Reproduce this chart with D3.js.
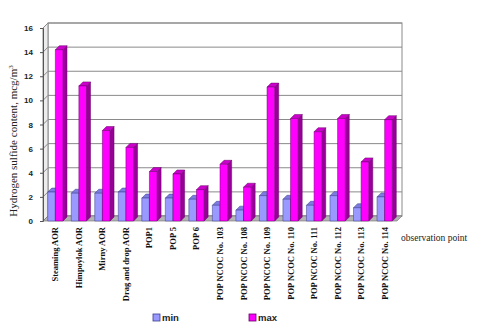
<!DOCTYPE html>
<html>
<head>
<meta charset="utf-8">
<script src="https://cdn.jsdelivr.net/npm/d3@7"></script>
<style>
  html, body { margin: 0; padding: 0; background: #fff; }
  svg { display: block; }
</style>
</head>
<body>
<div id="root"><svg id="chart" width="480" height="331"></svg></div>
<script>
const categories = [
  'Steaming AOR', 'Himpoylok AOR', 'Mirny AOR', 'Drag and drop AOR', 'POP1', 'POP 5', 'POP 6',
  'POP NCOC No. 103', 'POP NCOC No. 108', 'POP NCOC No. 109', 'POP NCOC No. 110',
  'POP NCOC No. 111', 'POP NCOC No. 112', 'POP NCOC No. 113', 'POP NCOC No. 114'
];
const minValues = [2.4, 2.3, 2.3, 2.4, 1.9, 1.9, 1.8, 1.3, 0.9, 2.1, 1.8, 1.3, 2.1, 1.1, 2.0];
const maxValues = [14.2, 11.2, 7.5, 6.1, 4.1, 3.9, 2.6, 4.7, 2.8, 11.1, 8.5, 7.4, 8.5, 4.9, 8.4];
const seriesNames = ['min', 'max'];
const yTicks = [0, 2, 4, 6, 8, 10, 12, 14, 16];

function drawChart() {
  const svg = d3.select('#chart');
  const left = 43, right = 397, bottom = 221, top = 28;
  const wallDx = 5, wallDy = -5;
  const barD = 4;

  const colors = {
    min: { front: '#9999ff', top: '#7b7be0', side: '#5c5cb8', stroke: '#3c3c8c' },
    max: { front: '#ff00ff', top: '#cc00cc', side: '#990099', stroke: '#660066' }
  };

  const x = d3.scaleBand().domain(categories).range([left, right])
    .paddingInner(0.35).paddingOuter(0.2);
  const xs = d3.scaleBand().domain(seriesNames).range([0, x.bandwidth()]);
  const y = d3.scaleLinear().domain([0, 16]).range([bottom, top]);

  // back wall
  svg.append('rect')
    .attr('x', left + wallDx).attr('y', top + wallDy)
    .attr('width', right - left).attr('height', bottom - top)
    .attr('fill', '#fff').attr('stroke', '#8a8a8a').attr('stroke-width', 1);

  // left wall
  svg.append('path')
    .attr('d', `M${left},${bottom}L${left},${top}L${left + wallDx},${top + wallDy}L${left + wallDx},${bottom + wallDy}Z`)
    .attr('fill', '#ececec').attr('stroke', '#8a8a8a');

  // gridlines
  const grid = svg.append('g').attr('stroke', '#8a8a8a').attr('stroke-width', 1).attr('fill', 'none');
  yTicks.forEach(t => {
    grid.append('path')
      .attr('d', `M${left},${y(t)}L${left + wallDx},${y(t) + wallDy}L${right + wallDx},${y(t) + wallDy}`);
  });

  // floor
  svg.append('path')
    .attr('d', `M${left},${bottom}L${right},${bottom}L${right + wallDx},${bottom + wallDy}L${left + wallDx},${bottom + wallDy}Z`)
    .attr('fill', '#b4b4b4').attr('stroke', '#6e6e6e').attr('stroke-width', 0.6);

  // y axis
  const yAxis = d3.axisLeft(y).tickValues(yTicks).tickSize(3).tickPadding(7);
  const ag = svg.append('g').attr('transform', `translate(${left},0)`).call(yAxis);
  ag.select('.domain').attr('stroke', '#555');
  ag.selectAll('.tick line').attr('stroke', '#555');
  ag.selectAll('.tick text')
    .attr('font-family', 'Liberation Sans, Arial, sans-serif')
    .attr('font-size', 8).attr('font-weight', 'bold').attr('fill', '#222');

  // bars
  const bars = svg.append('g');
  categories.forEach((c, i) => {
    [['min', minValues[i]], ['max', maxValues[i]]].forEach(([s, v]) => {
      const col = colors[s];
      const x0 = x(c) + xs(s);
      const w = xs.bandwidth();
      const y0 = y(v);
      const g = bars.append('g').attr('stroke', col.stroke).attr('stroke-width', 0.5).attr('stroke-linejoin', 'round');
      g.append('path')
        .attr('d', `M${x0 + w},${bottom}L${x0 + w + barD},${bottom - barD}L${x0 + w + barD},${y0 - barD}L${x0 + w},${y0}Z`)
        .attr('fill', col.side);
      g.append('path')
        .attr('d', `M${x0},${y0}L${x0 + barD},${y0 - barD}L${x0 + w + barD},${y0 - barD}L${x0 + w},${y0}Z`)
        .attr('fill', col.top);
      g.append('rect')
        .attr('x', x0).attr('y', y0).attr('width', w).attr('height', bottom - y0)
        .attr('fill', col.front);
    });
  });

  // category labels
  svg.append('g').selectAll('text').data(categories).join('text')
    .attr('transform', d => `translate(${x(d) + x.bandwidth() / 2 + 3},227) rotate(-90)`)
    .attr('text-anchor', 'end')
    .attr('font-family', 'Liberation Serif, Times New Roman, serif')
    .attr('font-size', 8.5).attr('font-weight', 'bold').attr('fill', '#111')
    .text(d => d);

  // axis titles
  const yt = svg.append('text')
    .attr('transform', 'translate(17,141) rotate(-90)')
    .attr('text-anchor', 'middle')
    .attr('font-family', 'Liberation Serif, Times New Roman, serif')
    .attr('font-size', 11).attr('fill', '#222');
  yt.append('tspan').text('Hydrogen sulfide content, mcg/m');
  yt.append('tspan').attr('font-size', 7).attr('dy', -4).text('3');

  svg.append('text')
    .attr('x', 401).attr('y', 241)
    .attr('font-family', 'Liberation Serif, Times New Roman, serif')
    .attr('font-size', 9.5).attr('fill', '#222')
    .text('observation point');

  // legend
  const legendX = [153, 249];
  seriesNames.forEach((s, i) => {
    svg.append('rect')
      .attr('x', legendX[i]).attr('y', 314).attr('width', 7).attr('height', 7)
      .attr('fill', colors[s].front).attr('stroke', colors[s].stroke).attr('stroke-width', 0.8);
    svg.append('text')
      .attr('x', legendX[i] + 9).attr('y', 321)
      .attr('font-family', 'Liberation Sans, Arial, sans-serif')
      .attr('font-size', 9.5).attr('font-weight', 'bold').attr('fill', '#222')
      .text(s);
  });
}

window.addEventListener('load', drawChart);
</script>
</body>
</html>
